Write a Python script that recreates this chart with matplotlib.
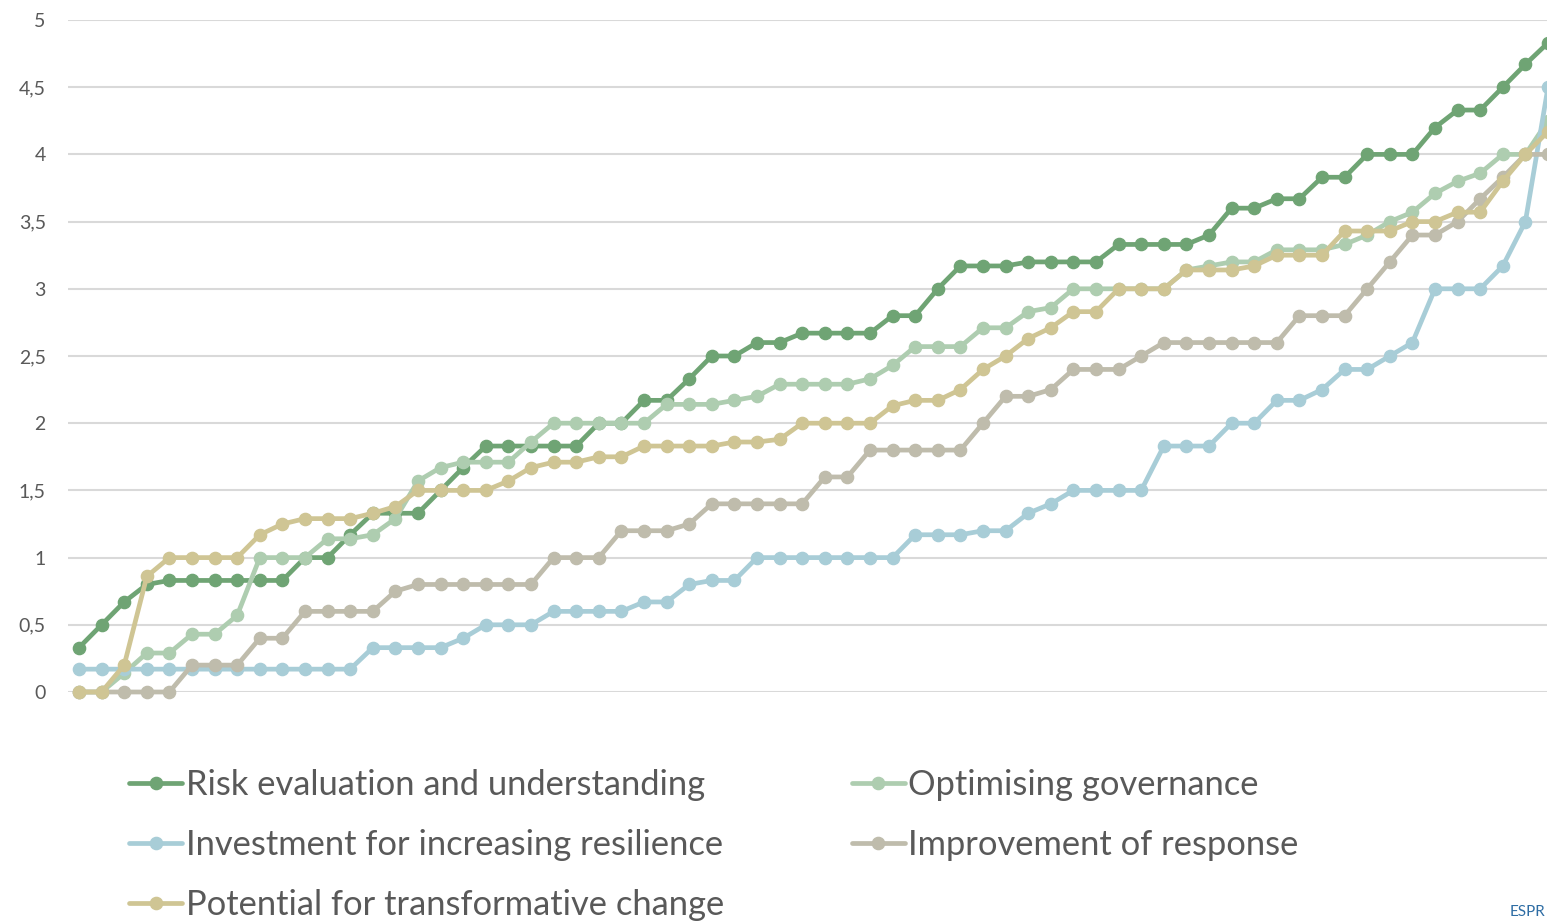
import matplotlib
matplotlib.use("Agg")
import matplotlib.pyplot as plt
import numpy as np

# values, one point per respondent rank
risk = [0.33, 0.5, 0.67, 0.8, 0.83, 0.83, 0.83, 0.83, 0.83, 0.83,
        1.0, 1.0, 1.17, 1.33, 1.33, 1.33, 1.5, 1.67, 1.83, 1.83,
        1.83, 1.83, 1.83, 2.0, 2.0, 2.17, 2.17, 2.33, 2.5, 2.5,
        2.6, 2.6, 2.67, 2.67, 2.67, 2.67, 2.8, 2.8, 3.0, 3.17,
        3.17, 3.17, 3.2, 3.2, 3.2, 3.2, 3.33, 3.33, 3.33, 3.33,
        3.4, 3.6, 3.6, 3.67, 3.67, 3.83, 3.83, 4.0, 4.0, 4.0,
        4.2, 4.33, 4.33, 4.5, 4.67, 4.83]
governance = [0.0, 0.0, 0.14, 0.29, 0.29, 0.43, 0.43, 0.57, 1.0, 1.0,
              1.0, 1.14, 1.14, 1.17, 1.29, 1.57, 1.67, 1.71, 1.71, 1.71,
              1.86, 2.0, 2.0, 2.0, 2.0, 2.0, 2.14, 2.14, 2.14, 2.17,
              2.2, 2.29, 2.29, 2.29, 2.29, 2.33, 2.43, 2.57, 2.57, 2.57,
              2.71, 2.71, 2.83, 2.86, 3.0, 3.0, 3.0, 3.0, 3.0, 3.14,
              3.17, 3.2, 3.2, 3.29, 3.29, 3.29, 3.33, 3.4, 3.5, 3.57,
              3.71, 3.8, 3.86, 4.0, 4.0, 4.25]
investment = [0.17, 0.17, 0.17, 0.17, 0.17, 0.17, 0.17, 0.17, 0.17, 0.17,
              0.17, 0.17, 0.17, 0.33, 0.33, 0.33, 0.33, 0.4, 0.5, 0.5,
              0.5, 0.6, 0.6, 0.6, 0.6, 0.67, 0.67, 0.8, 0.83, 0.83,
              1.0, 1.0, 1.0, 1.0, 1.0, 1.0, 1.0, 1.17, 1.17, 1.17,
              1.2, 1.2, 1.33, 1.4, 1.5, 1.5, 1.5, 1.5, 1.83, 1.83,
              1.83, 2.0, 2.0, 2.17, 2.17, 2.25, 2.4, 2.4, 2.5, 2.6,
              3.0, 3.0, 3.0, 3.17, 3.5, 4.5]
response = [0.0, 0.0, 0.0, 0.0, 0.0, 0.2, 0.2, 0.2, 0.4, 0.4,
            0.6, 0.6, 0.6, 0.6, 0.75, 0.8, 0.8, 0.8, 0.8, 0.8,
            0.8, 1.0, 1.0, 1.0, 1.2, 1.2, 1.2, 1.25, 1.4, 1.4,
            1.4, 1.4, 1.4, 1.6, 1.6, 1.8, 1.8, 1.8, 1.8, 1.8,
            2.0, 2.2, 2.2, 2.25, 2.4, 2.4, 2.4, 2.5, 2.6, 2.6,
            2.6, 2.6, 2.6, 2.6, 2.8, 2.8, 2.8, 3.0, 3.2, 3.4,
            3.4, 3.5, 3.67, 3.83, 4.0, 4.0]
transformative = [0.0, 0.0, 0.2, 0.86, 1.0, 1.0, 1.0, 1.0, 1.17, 1.25,
                  1.29, 1.29, 1.29, 1.33, 1.38, 1.5, 1.5, 1.5, 1.5, 1.57,
                  1.67, 1.71, 1.71, 1.75, 1.75, 1.83, 1.83, 1.83, 1.83, 1.86,
                  1.86, 1.88, 2.0, 2.0, 2.0, 2.0, 2.13, 2.17, 2.17, 2.25,
                  2.4, 2.5, 2.63, 2.71, 2.83, 2.83, 3.0, 3.0, 3.0, 3.14,
                  3.14, 3.14, 3.17, 3.25, 3.25, 3.25, 3.43, 3.43, 3.43, 3.5,
                  3.5, 3.57, 3.57, 3.8, 4.0, 4.17]

labels = ["Risk evaluation and understanding", "Optimising governance",
          "Investment for increasing resilience", "Improvement of response",
          "Potential for transformative change"]
colors = ["#6FA474", "#AECDB0", "#A8CDD7", "#BFBCAC", "#CFC594"]
y_ticks = [0, 0.5, 1, 1.5, 2, 2.5, 3, 3.5, 4, 4.5, 5]
y_tick_labels = ["0", "0,5", "1", "1,5", "2", "2,5", "3", "3,5", "4", "4,5", "5"]

W, H = 1547, 922
fig = plt.figure(figsize=(W / 100, H / 100), dpi=100)
fig.patch.set_facecolor("white")

# axes spans past the right edge: the reference is cropped there
step = 22.6
ax_left, ax_right = 68, 1560
ax = fig.add_axes([ax_left / W, (H - 692) / H, (ax_right - ax_left) / W, 672 / H])
x0 = -(79 - ax_left) / step
ax.set_xlim(x0, x0 + (ax_right - ax_left) / step)
ax.set_ylim(0, 5)

series = [risk, governance, investment, response, transformative]
lines = []
for vals, lab, col in zip(series, labels, colors):
    x = np.arange(len(vals))
    ln, = ax.plot(x, vals, color=col, lw=3.4, marker="o", ms=8.8,
                  label=lab, solid_capstyle="round", clip_on=False, zorder=3)
    lines.append(ln)

ax.set_yticks(y_ticks)
ax.set_yticklabels(y_tick_labels, fontsize=14, color="#595959", family="Lato")
ax.set_xticks([])
ax.tick_params(axis="y", length=0, pad=16)
ax.grid(axis="y", color="#D9D9D9", lw=1.5, zorder=0)
for s in ax.spines.values():
    s.set_visible(False)

# legend: row-wise order in the reference, matplotlib fills columns
order = [0, 2, 4, 1, 3]
leg = fig.legend([lines[i] for i in order], [labels[i] for i in order],
                 loc="upper left", bbox_to_anchor=(98 / W, 1 - 738 / H),
                 ncol=2, frameon=False, handlelength=1.55, handletextpad=0.1,
                 columnspacing=3.7, labelspacing=0.82,
                 prop={"family": "Lato", "size": 24.8})
for t in leg.get_texts():
    t.set_color("#595959")

# partly visible logo text in the bottom right corner
fig.text(1545 / W, 3 / H, "ESPR", color="#2E6DA4", fontsize=11,
         family="Lato", ha="right", va="bottom")

fig.savefig("out.png", dpi=100)
